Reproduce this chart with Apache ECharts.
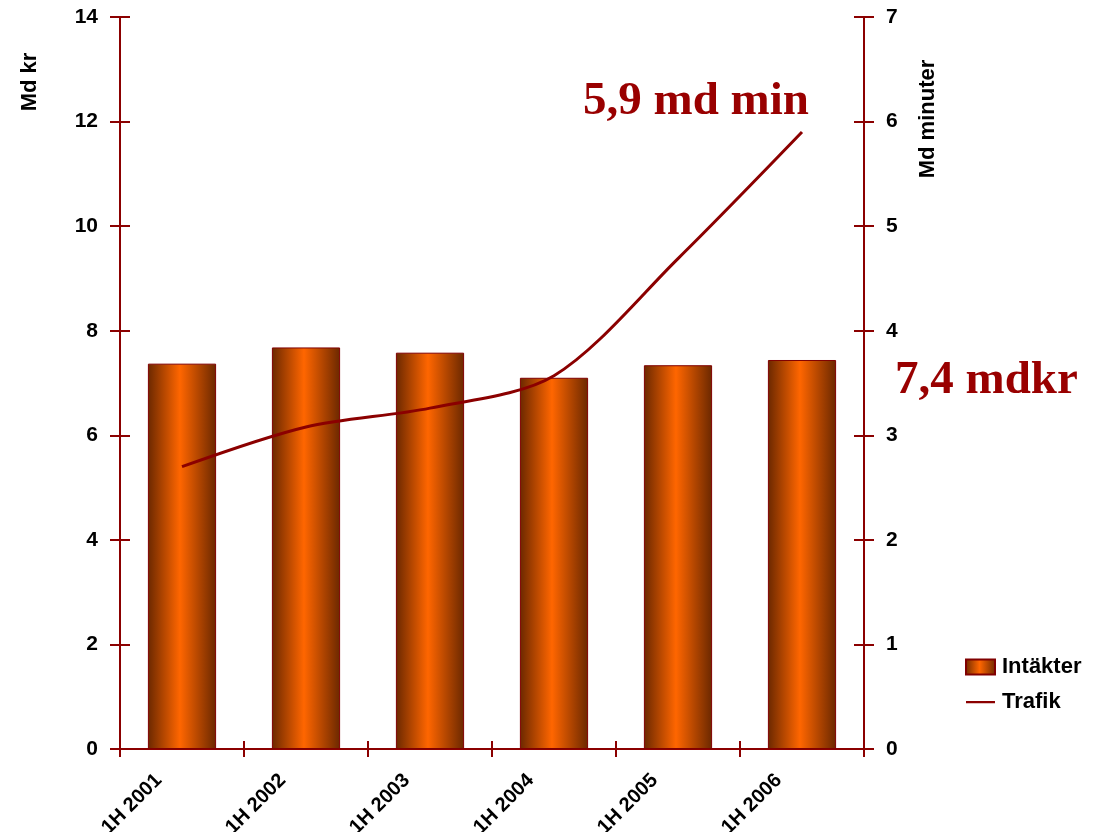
<!DOCTYPE html>
<html>
<head>
<meta charset="utf-8">
<script src="https://cdn.jsdelivr.net/npm/echarts@6/dist/echarts.min.js"></script>
<style>html,body{margin:0;padding:0;background:#fff}#c{width:1095px;height:832px}</style>
</head>
<body>
<div id="c"></div>
<script>
const categories = ['1H 2001', '1H 2002', '1H 2003', '1H 2004', '1H 2005', '1H 2006'];
const intakter = [7.37, 7.68, 7.58, 7.10, 7.34, 7.44];
const trafik = [2.70, 3.08, 3.26, 3.57, 4.69, 5.90];
const leftTicks = { min: 0, max: 14, interval: 2 };
const rightTicks = { min: 0, max: 7, interval: 1 };

const axisColor = '#8b0000';
const fontFam = 'Arial, "Liberation Sans", Helvetica, sans-serif';
const chart = echarts.init(document.getElementById('c'));

const barGrad = new echarts.graphic.LinearGradient(0, 0, 1, 0, [
  { offset: 0, color: '#6b2800' },
  { offset: 0.47, color: '#ff6600' },
  { offset: 1, color: '#6b2800' }
]);

const baseY = (pos, inside, showLabel) => ({
  type: 'value', position: pos,
  min: pos === 'left' ? leftTicks.min : rightTicks.min,
  max: pos === 'left' ? leftTicks.max : rightTicks.max,
  interval: pos === 'left' ? leftTicks.interval : rightTicks.interval,
  splitLine: { show: false },
  axisLine: { show: showLabel, lineStyle: { color: axisColor, width: 2 } },
  axisTick: { show: true, inside: inside, length: 10, lineStyle: { color: axisColor, width: 2 } },
  axisLabel: { show: showLabel, margin: 22, color: '#000', fontSize: 21, fontWeight: 'bold', fontFamily: fontFam }
});

chart.setOption({
  animation: false,
  backgroundColor: '#fff',
  grid: { left: 120, right: 231, top: 17, bottom: 83, containLabel: false, outerBoundsMode: 'none' },
  xAxis: [
    {
      type: 'category', data: categories, boundaryGap: true,
      axisLine: { lineStyle: { color: axisColor, width: 2 } },
      axisTick: { show: true, length: 8, lineStyle: { color: axisColor, width: 2 } },
      axisLabel: { rotate: 45, margin: 5, padding: [0, 33, 0, 0], color: '#000', fontSize: 20, fontWeight: 'bold', fontFamily: fontFam, interval: 0 }
    },
    {
      type: 'category', data: categories, position: 'bottom', boundaryGap: true,
      axisLine: { show: false },
      axisTick: { show: true, inside: true, length: 8, lineStyle: { color: axisColor, width: 2 } },
      axisLabel: { show: false }
    }
  ],
  yAxis: [
    baseY('left', false, true),
    baseY('right', false, true),
    baseY('left', true, false),
    baseY('right', true, false)
  ],
  legend: {
    orient: 'vertical', left: 965, top: 656, itemGap: 13, padding: 0,
    itemWidth: 29, itemHeight: 15,
    textStyle: { color: '#000', fontSize: 22, fontWeight: 'bold', fontFamily: fontFam, padding: [0, 0, 0, 2] },
    data: [
      { name: 'Intäkter', icon: 'rect' },
      { name: 'Trafik', icon: 'path://M0,0L0.01,0L0.01,0.01Z M0,15L0.01,15L0.01,15.01Z M0,6.5L29,6.5L29,8.8L0,8.8Z' }
    ]
  },
  series: [
    {
      name: 'Intäkter', type: 'bar', xAxisIndex: 0, yAxisIndex: 0,
      data: intakter, barWidth: '55%',
      itemStyle: { color: barGrad, borderColor: '#800000', borderWidth: 1 }
    },
    {
      name: 'Trafik', type: 'line', xAxisIndex: 0, yAxisIndex: 1,
      data: trafik, smooth: 0.3, symbol: 'none',
      lineStyle: { color: '#8b0000', width: 3 },
      itemStyle: { color: '#8b0000' }
    }
  ],
  graphic: [
    { type: 'text', left: 583, top: 78, style: { text: '5,9 md min', fill: '#990000', font: 'bold 47px "Liberation Serif", "Times New Roman", serif' } },
    { type: 'text', left: 895, top: 357, style: { text: '7,4 mdkr', fill: '#990000', font: 'bold 47px "Liberation Serif", "Times New Roman", serif' } },
    { type: 'text', x: 30, y: 82, rotation: Math.PI / 2, style: { text: 'Md kr', fill: '#000', align: 'center', verticalAlign: 'middle', font: 'bold 22px Arial, "Liberation Sans", sans-serif' } },
    { type: 'text', x: 928, y: 119, rotation: Math.PI / 2, style: { text: 'Md minuter', fill: '#000', align: 'center', verticalAlign: 'middle', font: 'bold 22px Arial, "Liberation Sans", sans-serif' } }
  ]
});
</script>
</body>
</html>
